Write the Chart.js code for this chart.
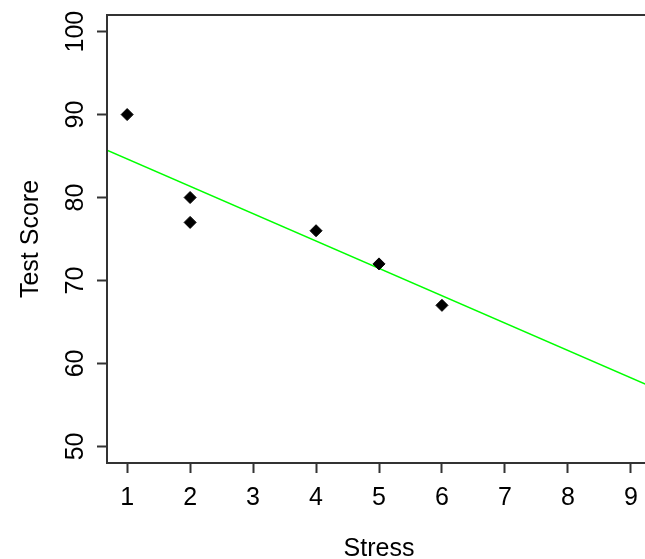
<!DOCTYPE html>
<html>
<head>
<meta charset="utf-8">
<script src="https://cdn.jsdelivr.net/npm/chart.js@4/dist/chart.umd.min.js"></script>
<style>
  html, body { margin: 0; padding: 0; background: #fff; overflow: hidden; }
  #wrap { width: 645px; height: 559px; overflow: hidden; }
</style>
</head>
<body>
<div id="wrap"><canvas id="scoreChart" width="660" height="570"></canvas></div>
<script>
// observed points
const stress = [1, 2, 2, 4, 5, 6];
const testScore = [90, 80, 77, 76, 72, 67];

// fitted line, ends
const lineStress = [0.68, 9.32];
const lineScore = [85.7, 57.2];

const xTicks = [1, 2, 3, 4, 5, 6, 7, 8, 9];
const yTicks = [50, 60, 70, 80, 90, 100];

// R draws a full box round the plot region
const boxPlugin = {
  id: "box",
  afterDraw(chart) {
    const a = chart.chartArea;
    const ctx = chart.ctx;
    ctx.save();
    ctx.strokeStyle = "#333";
    ctx.lineWidth = 2;
    ctx.strokeRect(a.left, a.top, a.right - a.left, a.bottom - a.top);
    ctx.restore();
  }
};

const font = { family: "'Liberation Sans', Arial, sans-serif", size: 25 };

new Chart(document.getElementById("scoreChart").getContext("2d"), {
  type: "scatter",
  data: {
    datasets: [
      {
        label: "Scores",
        data: stress.map((s, i) => ({ x: s, y: testScore[i] })),
        backgroundColor: "#000",
        borderColor: "#000",
        borderWidth: 1,
        pointStyle: "rectRot",
        pointRadius: 6,
        order: 0
      },
      {
        type: "line",
        label: "Fit",
        data: lineStress.map((s, i) => ({ x: s, y: lineScore[i] })),
        borderColor: "#00ff00",
        borderWidth: 1.5,
        pointRadius: 0,
        fill: false,
        order: 1
      }
    ]
  },
  options: {
    responsive: false,
    animation: false,
    layout: { padding: { left: 0, top: 15, right: 9, bottom: 0 } },
    plugins: { legend: { display: false }, tooltip: { enabled: false } },
    scales: {
      x: {
        type: "linear",
        min: 0.68,
        max: 9.32,
        afterBuildTicks: axis => { axis.ticks = xTicks.map(v => ({ value: v })); },
        afterFit: axis => { axis.height = 107; },
        grid: { drawOnChartArea: false, drawTicks: true, tickLength: 10, tickColor: "#333", tickWidth: 2 },
        border: { color: "#333", width: 2 },
        ticks: { color: "#000", font: font, padding: 10, maxRotation: 0 },
        title: { display: true, text: "Stress", color: "#000", font: font, padding: { top: 0, bottom: 6 } }
      },
      y: {
        type: "linear",
        min: 48,
        max: 102,
        afterBuildTicks: axis => { axis.ticks = yTicks.map(v => ({ value: v })); },
        afterFit: axis => { axis.width = 107; },
        grid: { drawOnChartArea: false, drawTicks: true, tickLength: 10, tickColor: "#333", tickWidth: 2 },
        border: { color: "#333", width: 2 },
        ticks: { color: "#000", font: font, padding: 0, crossAlign: "center", minRotation: 90, maxRotation: 90 },
        title: { display: true, text: "Test Score", color: "#000", font: font, padding: { top: 16, bottom: 0 } }
      }
    }
  },
  plugins: [boxPlugin]
});
</script>
</body>
</html>
